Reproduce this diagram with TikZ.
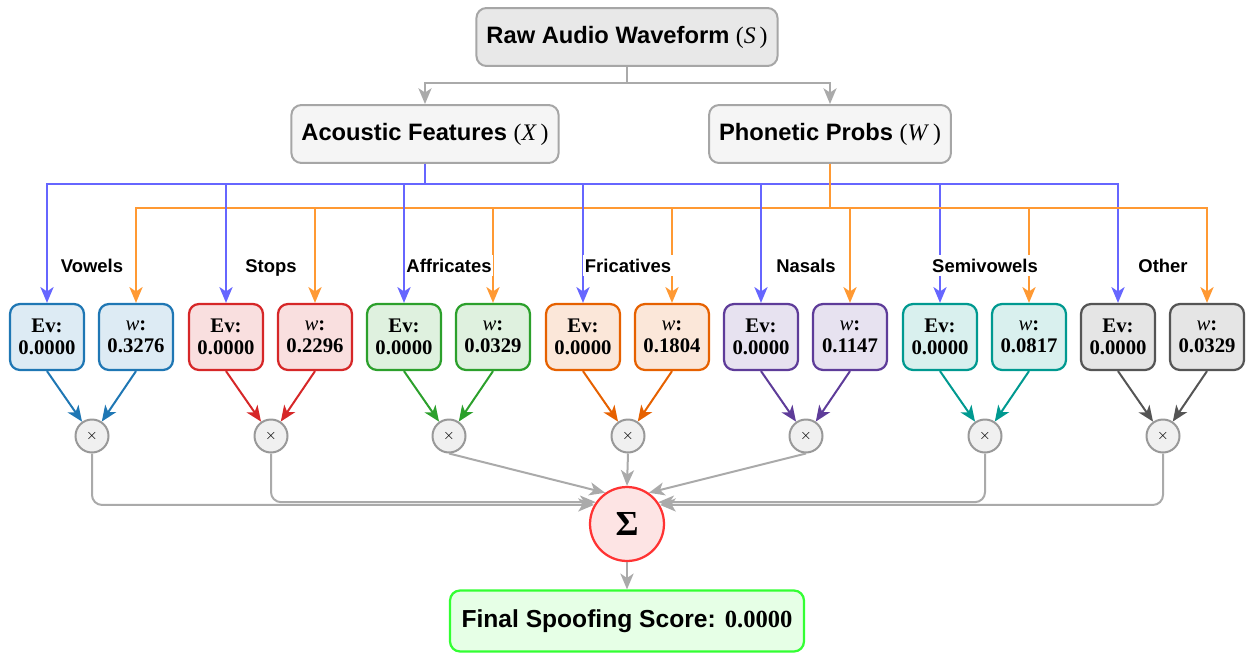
\documentclass[tikz,border=0pt]{standalone}
\usepackage{fontspec}
\setmainfont{Liberation Serif}
\setsansfont{Liberation Sans}
\usetikzlibrary{arrows.meta}

\definecolor{xline}{HTML}{6666FF}
\definecolor{wline}{HTML}{FF9933}
\definecolor{gline}{HTML}{AAAAAA}
\definecolor{cVowels}{HTML}{1F77B4}
\definecolor{cStops}{HTML}{D62728}
\definecolor{cAffricates}{HTML}{2CA02C}
\definecolor{cFricatives}{HTML}{E66100}
\definecolor{cNasals}{HTML}{5E3C99}
\definecolor{cSemivowels}{HTML}{009990}
\definecolor{cOther}{HTML}{555555}
\newcommand{\tvar}[1]{{\rmfamily\mdseries(\textit{#1}\,)}}

\begin{document}
\begin{tikzpicture}[x=0.02cm, y=-0.02cm,
	topbox/.style={draw=gray!70, fill=#1, line width=0.04cm, rounded corners=0.2cm,
		minimum height=1.16cm, inner xsep=0.2cm,
		font=\sffamily\bfseries\fontsize{13.5}{16}\selectfont},
	catbox/.style={draw=#1, fill=#1!15, line width=0.045cm, rounded corners=0.2cm,
		minimum width=1.48cm, minimum height=1.32cm, inner sep=0pt, align=center,
		font=\rmfamily\bfseries\fontsize{11.8}{12.8}\selectfont},
	multnode/.style={draw=gray!80, fill=gray!12, circle, line width=0.04cm,
		minimum size=0.66cm, inner sep=0pt, font=\footnotesize},
	catlabel/.style={fill=white, inner xsep=1pt, inner ysep=2pt, anchor=base,
		font=\sffamily\bfseries\fontsize{10.5}{12}\selectfont},
	conn/.style={line width=0.04cm, -{Stealth[length=9pt, width=7.5pt, inset=2.5pt]}}]
				\useasboundingbox (0,0) rectangle (1248,653);
				
				\node [topbox=gray!18] (raw) at (627,37) {Raw Audio Waveform \tvar{S}};
				\node [topbox=gray!8] (acou) at (425,134) {Acoustic Features \tvar{X}};
				\node [topbox=gray!8] (phon) at (830,134) {Phonetic Probs \tvar{W}};
				
				\coordinate (sbus) at (627,83);
				\coordinate (xbus) at (425,184);
				\coordinate (wbus) at (830,208);
				\draw [conn, gline] (raw.south) -- (sbus) -| (acou.north);
				\draw [conn, gline] (raw.south) -- (sbus) -| (phon.north);
				
				% one group per phoneme class
				\foreach \cat/\evv/\wv [count=\i from 0] in {Vowels/0.0000/0.3276,
					Stops/0.0000/0.2296, Affricates/0.0000/0.0329, Fricatives/0.0000/0.1804,
					Nasals/0.0000/0.1147, Semivowels/0.0000/0.0817, Other/0.0000/0.0329}{
					\pgfmathsetmacro{\xe}{round(47+178.5*\i)}
					\node [catbox=c\cat] (ev\i) at (\xe,337) {Ev:\\\evv};
					\node [catbox=c\cat] (w\i) at (\xe+89,337) {{\mdseries\itshape w}:\\\wv};
					\node [multnode] (m\i) at (\xe+45,436) {$\times$};
					\draw [conn, xline] (acou.south) -- (xbus) -| (ev\i.north);
					\draw [conn, wline] (phon.south) -- (wbus) -| (w\i.north);
					\node [catlabel] (lab\i) at (\xe+45,272) {\cat};
					\draw [conn, c\cat] (ev\i.south) -- (m\i);
					\draw [conn, c\cat] (w\i.south) -- (m\i);
				}
				
				\node [circle, draw={rgb,255:red,255;green,51;blue,51}, fill={rgb,255:red,253;green,228;blue,228},
				line width=0.045cm, minimum size=1.48cm, inner sep=0pt,
				font=\rmfamily\bfseries\fontsize{20}{24}\selectfont] (sigma) at (627,524) {Σ};
				
				\draw [conn, gline, rounded corners=0.2cm] (m0.south) |- (sigma.150);
				\draw [conn, gline, rounded corners=0.2cm] (m1.south) |- (sigma.145);
				\draw [conn, gline] (m2.south) -- (sigma.125);
				\draw [conn, gline] (m3.south) -- (sigma.north);
				\draw [conn, gline] (m4.south) -- (sigma.55);
				\draw [conn, gline, rounded corners=0.2cm] (m5.south) |- (sigma.35);
				\draw [conn, gline, rounded corners=0.2cm] (m6.south) |- (sigma.30);
				
				\node [draw={rgb,255:red,51;green,255;blue,51}, fill={rgb,255:red,230;green,255;blue,230},
				line width=0.045cm, rounded corners=0.2cm, minimum height=1.22cm, inner xsep=0.23cm,
				font=\sffamily\bfseries\fontsize{14}{16}\selectfont] (final) at (627,621)
				{Final Spoofing Score: {\rmfamily 0.0000}};
				\draw [conn, gline] (sigma.south) -- (final.north);
			\end{tikzpicture}
\end{document}
